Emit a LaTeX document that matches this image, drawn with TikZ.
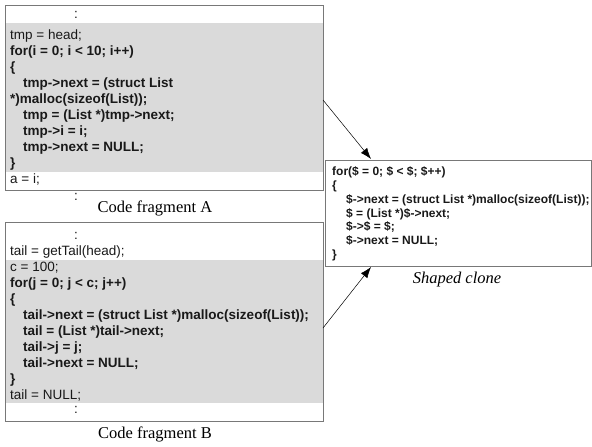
\documentclass[tikz,border=0pt]{standalone}
\usepackage{fontspec}
\setmainfont{Liberation Serif}
\setsansfont{Liberation Sans}
\usetikzlibrary{arrows.meta, positioning}
\definecolor{framegray}{RGB}{120,120,120}
\definecolor{bandgray}{RGB}{218,218,218}
\definecolor{inkgray}{RGB}{25,25,25}

\tikzset{
  code/.style={anchor=west, inner sep=0pt, text height=9pt, text depth=3pt, text=inkgray,
    font=\sffamily\fontsize{13.5}{15}\selectfont},
  codebf/.style={code, font=\sffamily\bfseries\fontsize{13.5}{15}\selectfont},
  clonebf/.style={code, font=\sffamily\bfseries\fontsize{12}{14}\selectfont},
  caption/.style={inner sep=0pt, font=\fontsize{16.5}{18}\selectfont},
  frame/.style={draw=framegray, line width=0.8pt},
  link/.style={-{Latex[length=11pt,width=8pt]}, line width=0.5pt}
}

\begin{document}
\begin{tikzpicture}[x=1pt, y=-1pt]
\useasboundingbox (0,0) rectangle (592,447);

% fragment A
\path [fill=bandgray] (5,23) rectangle (323,172);
\draw [frame] (5,5) rectangle (323,190);

\node [code] (a0) at (74,15) {:};
\node [code] (a1) at (10,36) {tmp = head;};
\node [codebf] (a2) at (10,52) {for(i = 0; i < 10; i++)};
\node [codebf] (a3) at (10,68) {\{};
\node [codebf] (a4) at (23,84) {tmp->next = (struct List};
\node [codebf] (a5) at (10,100) {*)malloc(sizeof(List));};
\node [codebf] (a6) at (23,116) {tmp = (List *)tmp->next;};
\node [codebf] (a7) at (23,132) {tmp->i = i;};
\node [codebf] (a8) at (23,148) {tmp->next = NULL;};
\node [codebf] (a9) at (10,164) {\}};
\node [code] (a10) at (10,180) {a = i;};
\node [code] (a11) at (74,197) {:};
\node [caption] (capA) at (155,208) {Code fragment A};

% fragment B
\path [fill=bandgray] (5,260) rectangle (323,403);
\draw [frame] (5,222) rectangle (323,421);

\node [code] (b0) at (74,236) {:};
\node [code] (b1) at (10,252) {tail = getTail(head);};
\node [code] (b2) at (10,268) {c = 100;};
\node [codebf] (b3) at (10,284) {for(j = 0; j < c; j++)};
\node [codebf] (b4) at (10,300) {\{};
\node [codebf] (b5) at (23,316) {tail->next = (struct List *)malloc(sizeof(List));};
\node [codebf] (b6) at (23,332) {tail = (List *)tail->next;};
\node [codebf] (b7) at (23,348) {tail->j = j;};
\node [codebf] (b8) at (23,364) {tail->next = NULL;};
\node [codebf] (b9) at (10,380) {\}};
\node [code] (b10) at (10,396) {tail = NULL;};
\node [code] (b11) at (74,410) {:};
\node [caption] (capB) at (155,434) {Code fragment B};

% shaped clone
\draw [frame] (325,160) rectangle (591,266);

\node [clonebf] (c1) at (332,172) {for(\$ = 0; \$ < \$; \$++)};
\node [clonebf] (c2) at (332,186) {\{};
\node [clonebf] (c3) at (346,200) {\$->next = (struct List *)malloc(sizeof(List));};
\node [clonebf] (c4) at (346,214) {\$ = (List *)\$->next;};
\node [clonebf] (c5) at (346,227) {\$->\$ = \$;};
\node [clonebf] (c6) at (346,241) {\$->next = NULL;};
\node [clonebf] (c7) at (332,255) {\}};
\node [caption, font=\itshape\fontsize{16.5}{18}\selectfont] (capC) at (457,280) {Shaped clone};

% arrows
\coordinate (outA) at (323,100);
\coordinate (inA) at (371,159);
\coordinate (outB) at (323,328);
\coordinate (inB) at (371,267);
\draw [link] (outA) -- (inA);
\draw [link] (outB) -- (inB);
\end{tikzpicture}
\end{document}
